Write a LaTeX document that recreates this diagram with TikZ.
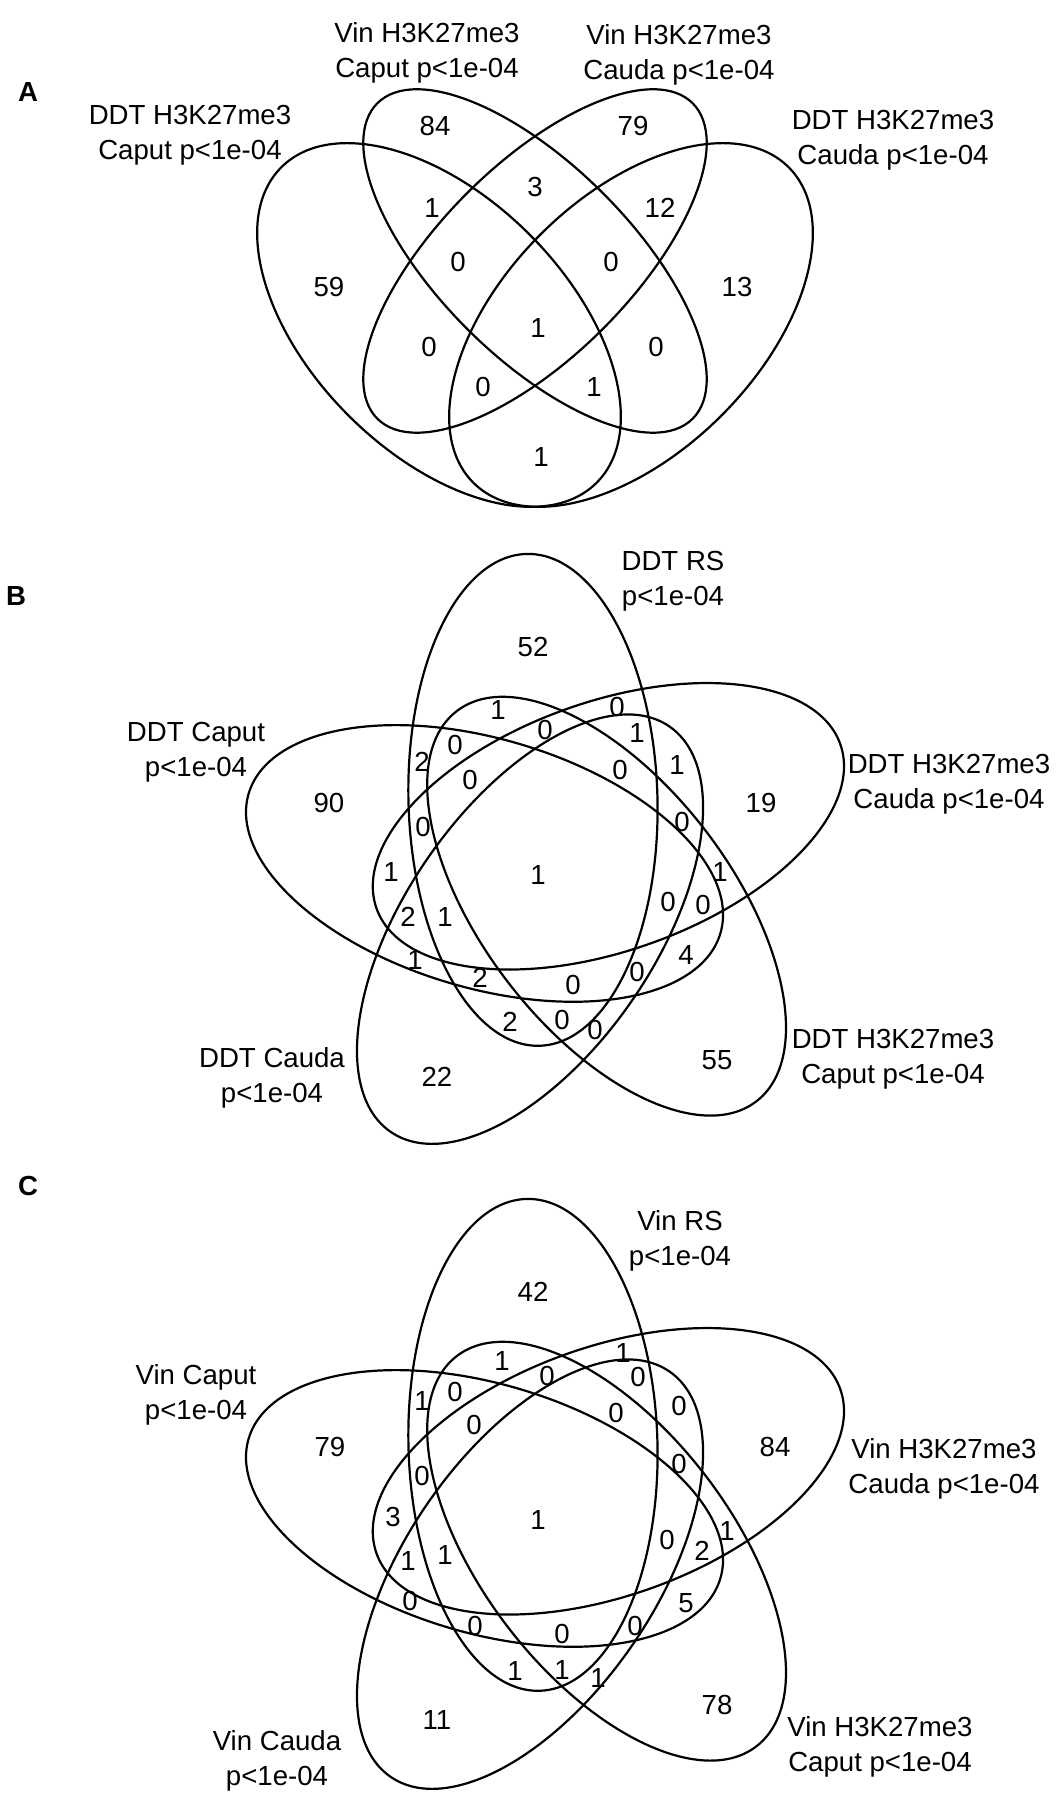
\documentclass[tikz,border=0pt]{standalone}
\usepackage{fontspec}
\setmainfont{Liberation Sans}
\usepackage{tikz}

\begin{document}
\begin{tikzpicture}[x=0.5pt,y=0.5pt,
    venn/.style={line width=1.1pt},
    num/.style={font=\fontsize{13.8}{16}\selectfont, inner sep=0pt},
    setlabel/.style={font=\fontsize{13.8}{17.5}\selectfont, align=center, inner sep=0pt},
    panel/.style={font=\fontsize{13.8}{16}\selectfont\bfseries, inner sep=0pt}]
  \useasboundingbox (0,0) rectangle (1061,1800);

  % A
  \path[coordinate] (439,1475) coordinate(ddtcaput)
                    (535,1539) coordinate(vin)
                    (631,1475) coordinate(ddtcauda);
  \draw[venn, shift={(ddtcaput)}, rotate=135] (0,0) ellipse [x radius=223, y radius=128];
  \draw[venn, shift={(vin)}, rotate=135] (0,0) ellipse [x radius=223, y radius=96];
  \draw[venn, shift={(vin)}, rotate=45] (0,0) ellipse [x radius=223, y radius=96];
  \draw[venn, shift={(ddtcauda)}, rotate=45] (0,0) ellipse [x radius=223, y radius=128];
  \node[panel] (pA) at (28,1708) {A};
  \node[setlabel] (labA1) at (190,1664.5) {DDT H3K27me3\\Caput p<1e-04};
  \node[setlabel] (labA2) at (427,1747) {Vin H3K27me3\\Caput p<1e-04};
  \node[setlabel] (labA3) at (679,1745) {Vin H3K27me3\\Cauda p<1e-04};
  \node[setlabel] (labA4) at (893,1659.5) {DDT H3K27me3\\Cauda p<1e-04};
  \foreach \x/\y/\n [count=\i] in {435/1674/84, 633/1674/79, 329/1513/59, 737/1513/13,
      535/1613/3, 432/1592/1, 660/1592/12, 458/1538/0, 611/1538/0, 538/1472/1,
      429/1453/0, 656/1453/0, 483/1413/0, 594/1413/1, 541/1343/1}
    \node[num] (a\i) at (\x,\y) {\n};

  % B and C
  \path[coordinate] (552.5,935) coordinate(oB)
                    (552.5,290) coordinate(oC);
  \foreach \o in {oB,oC}
    \foreach \k in {0,...,4}
      \draw[venn, shift={(\o)}, rotate=91.5+72*\k] (15.2:68) ellipse [x radius=246, y radius=124.5];

  \node[panel] (pB) at (16,1204) {B};
  \node[setlabel] (labB1) at (673,1218.5) {DDT RS\\p<1e-04};
  \node[setlabel] (labB2) at (196,1047.5) {DDT Caput\\p<1e-04};
  \node[setlabel] (labB3) at (949,1016) {DDT H3K27me3\\Cauda p<1e-04};
  \node[setlabel] (labB4) at (893,740.5) {DDT H3K27me3\\Caput p<1e-04};
  \node[setlabel] (labB5) at (272,722) {DDT Cauda\\p<1e-04};
  \foreach \x/\y/\n [count=\i] in {533/1153/52, 329/997/90, 761/997/19, 717/740/55, 437/723/22,
      422/1038/2, 455/1055/0, 498/1090/1, 470/1020/0, 423/973/0, 391/928/1,
      408/883/2, 445/883/1, 415/840/1, 480/822/2, 510/778/2,
      617/1093/0, 545/1070/0, 637/1067/1, 620/1030/0, 677/1035/1, 682/978/0,
      538/925/1, 720/928/1, 668/898/0, 703/895/0, 686/845/4, 637/828/0,
      573/815/0, 562/780/0, 595/770/0}
    \node[num] (b\i) at (\x,\y) {\n};

  \node[panel] (pC) at (28,614) {C};
  \node[setlabel] (labC1) at (680,559) {Vin RS\\p<1e-04};
  \node[setlabel] (labC2) at (196,405.5) {Vin Caput\\p<1e-04};
  \node[setlabel] (labC3) at (944,331) {Vin H3K27me3\\Cauda p<1e-04};
  \node[setlabel] (labC4) at (880,53) {Vin H3K27me3\\Caput p<1e-04};
  \node[setlabel] (labC5) at (277,39.5) {Vin Cauda\\p<1e-04};
  \foreach \x/\y/\n [count=\i] in {533/508/42, 330/353/79, 775/353/84, 717/95/78, 437/80/11,
      422/399/1, 455/408/0, 502/439/1, 474/375/0, 422/324/0, 393/283/3,
      408/239/1, 445/245/1, 410/199/0, 475/174/0, 515/129/1,
      623/447/1, 547/424/0, 638/423/0, 616/387/0, 679/394/0, 679/336/0,
      538/280/1, 667/260/0, 702/249/2, 727/269/1, 686/197/5, 635/174/0,
      562/166/0, 562/130/1, 598/122/1}
    \node[num] (c\i) at (\x,\y) {\n};
\end{tikzpicture}
\end{document}
